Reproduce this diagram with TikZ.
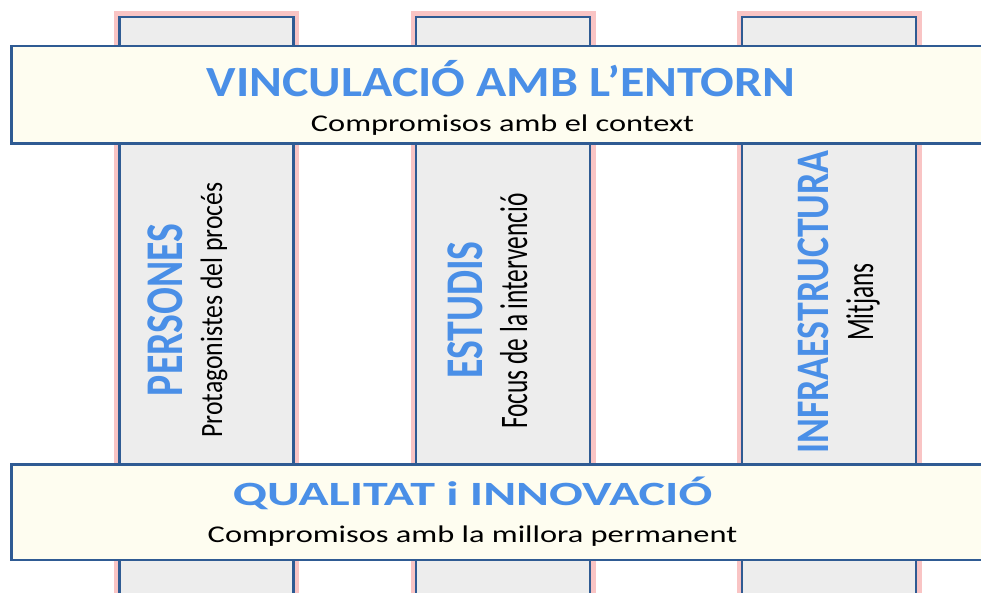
\documentclass[tikz,border=0pt]{standalone}
\usepackage{fontspec}
\setmainfont{Carlito}
\newfontfamily\topfont[FakeStretch=1.16]{Carlito}
\newfontfamily\bottomfont[FakeStretch=1.47]{Carlito}
\newfontfamily\widefont[FakeStretch=1.35]{Carlito}
\newfontfamily\narrowfont[FakeStretch=0.75]{Carlito}
\newfontfamily\longfont[FakeStretch=0.81]{Carlito}
\newfontfamily\slimfont[FakeStretch=0.83]{Carlito}
\newfontfamily\tallfont[FakeStretch=0.65]{Carlito}
\usetikzlibrary{positioning}

\definecolor{pillargray}{HTML}{EDEDED}
\definecolor{edgeblue}{HTML}{2F5B93}
\definecolor{glowpink}{HTML}{F9C4C4}
\definecolor{bandcream}{HTML}{FEFDF0}
\definecolor{titleblue}{HTML}{4A8FE7}

\begin{document}
\begin{tikzpicture}[
        x=1pt, y=-1pt,
        pillar/.style={rectangle, draw=edgeblue, line width=2.8pt, fill=pillargray,
            minimum width=174pt, minimum height=603pt, inner sep=0pt,
            preaction={draw=glowpink, line width=11pt}},
        band/.style={rectangle, draw=edgeblue, line width=2.5pt, fill=bandcream,
            minimum width=1000pt, inner sep=0pt},
        bandtitle/.style={text=titleblue, anchor=base, inner sep=0pt},
        bandtext/.style={text=black, anchor=base, inner sep=0pt},
        pillartitle/.style={text=titleblue, anchor=base, rotate=90, inner sep=0pt},
        pillartext/.style={text=black, anchor=base, rotate=90, inner sep=0pt}
    ]
    \clip (0,0) rectangle (981,593);

    % Pillars
    \node[pillar] (P1) at (206.5,318.5) {};
    \node[pillar] (P2) at (503,318.5) {};
    \node[pillar] (P3) at (829,318.5) {};

    % Bands
    \node[band, minimum height=97.5pt] (B1) at (511.25,95) {};
    \node[band, minimum height=95.5pt] (B2) at (511.25,512) {};

    % Band texts
    \node[bandtitle, font=\topfont\bfseries\fontsize{43}{43}\selectfont] (T1) at (501,97) {VINCULACIÓ AMB L’ENTORN};
    \node[bandtext, font=\widefont\fontsize{24}{24}\selectfont] (S1) at (502.5,132) {Compromisos amb el context};
    \node[bandtitle, font=\bottomfont\bfseries\fontsize{34}{34}\selectfont] (T2) at (472.5,505) {QUALITAT i INNOVACIÓ};
    \node[bandtext, font=\widefont\fontsize{24}{24}\selectfont] (S2) at (472.5,542) {Compromisos amb la millora permanent};

    % Pillar texts
    \node[pillartitle, font=\narrowfont\bfseries\fontsize{53}{53}\selectfont] (PT1) at (182,310) {PERSONES};
    \node[pillartext, font=\slimfont\fontsize{31}{31}\selectfont] (PS1) at (222,310) {Protagonistes del procés};
    \node[pillartitle, font=\narrowfont\bfseries\fontsize{53}{53}\selectfont] (PT2) at (482,310) {ESTUDIS};
    \node[pillartext, font=\tallfont\fontsize{39}{39}\selectfont] (PS2) at (527,311) {Focus de la intervenció};
    \node[pillartitle, font=\longfont\bfseries\fontsize{46.6}{46.6}\selectfont] (PT3) at (828,302) {INFRAESTRUCTURA};
    \node[pillartext, font=\tallfont\fontsize{39}{39}\selectfont] (PS3) at (873,302) {Mitjans};
\end{tikzpicture}
\end{document}
